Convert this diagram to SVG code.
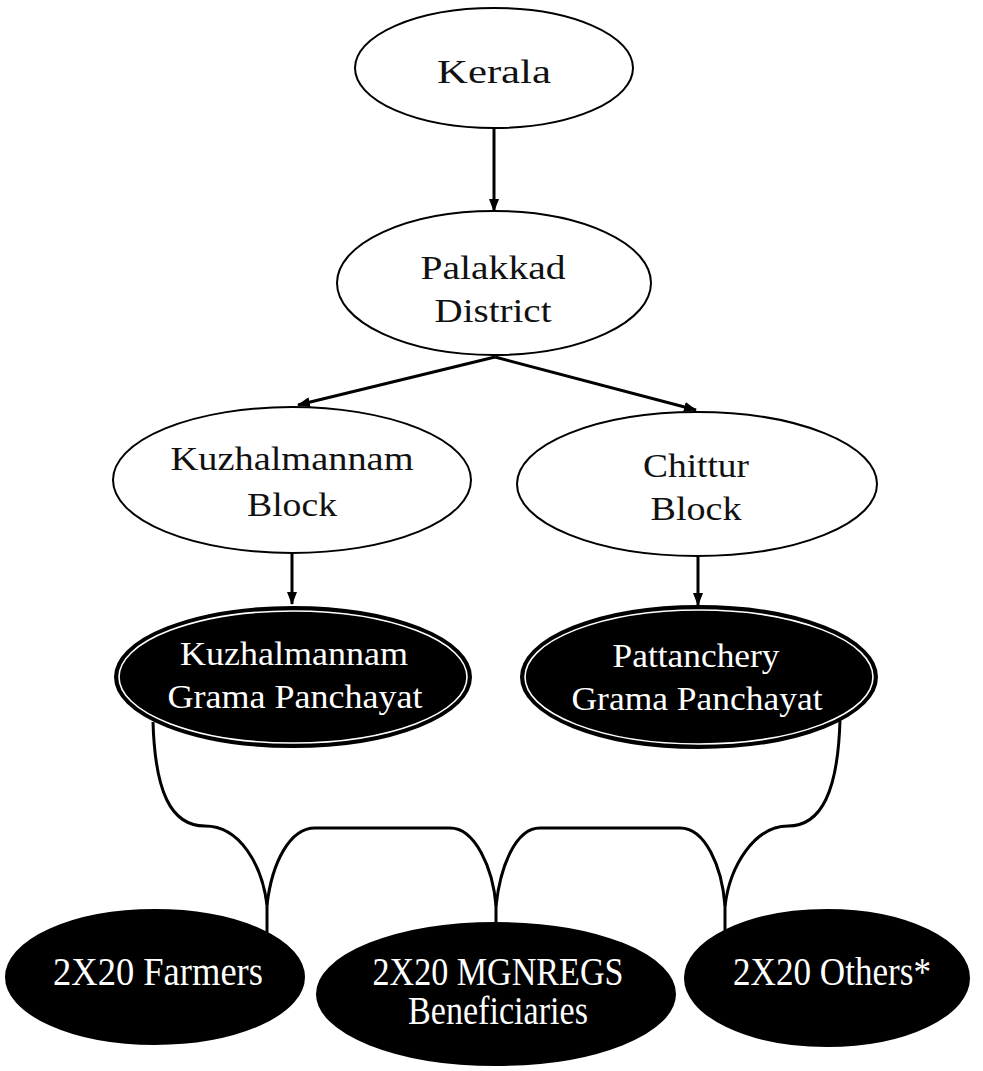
<svg xmlns="http://www.w3.org/2000/svg" width="983" height="1071" viewBox="0 0 983 1071">
<style>
.wn{fill:#fff;stroke:#000;stroke-width:2}
.bn{fill:#000;stroke:#000;stroke-width:2}
.ring{fill:none;stroke:#fff;stroke-width:1.6}
.t{font-family:"Liberation Serif","Times New Roman",serif;text-anchor:middle}
.tb{fill:#111;font-size:34px}
.tw{fill:#fff;font-size:34px}
.tl{fill:#fff;font-size:39px}
.ar{fill:none;stroke:#000;stroke-width:3;marker-end:url(#ah)}
.br{fill:none;stroke:#000;stroke-width:3;stroke-linejoin:round}
</style>
<defs>
<marker id="ah" markerUnits="userSpaceOnUse" markerWidth="14" markerHeight="10" refX="12" refY="5" orient="auto">
<path d="M0,0 L13,5 L0,10 Z" fill="#000"/>
</marker>
</defs>
<rect width="983" height="1071" fill="#fff"/>
<g id="connectors">
<path class="ar" d="M494,128 L494,211"/>
<path class="ar" d="M495,357 L298,405"/>
<path class="ar" d="M495,357 L696,410"/>
<path class="ar" d="M292,552 L292,604"/>
<path class="ar" d="M698,557 L698,605"/>
<path class="br" d="M153,722 C155,790 170,826 205,826 C240,826 262,865 267,905 L267,934"/>
<path class="br" d="M267,905 C272,862 290,828 315,828 L450,828 C475,828 493,868 496,906 L496,924"/>
<path class="br" d="M496,906 C500,868 515,828 540,828 L680,828 C705,828 722,866 725,906 L725,934"/>
<path class="br" d="M725,906 C730,865 755,826 788,826 C822,826 838,790 840,720"/>
</g>
<g id="kerala">
<ellipse class="wn" cx="494" cy="68" rx="139" ry="60"/>
<text class="t tb" x="494" y="83" font-size="35" textLength="114" lengthAdjust="spacingAndGlyphs">Kerala</text>
</g>
<g id="palakkad">
<ellipse class="wn" cx="494" cy="283" rx="157" ry="72"/>
<text class="t tb" x="493" y="279" textLength="145" lengthAdjust="spacingAndGlyphs">Palakkad</text>
<text class="t tb" x="493" y="322" textLength="117" lengthAdjust="spacingAndGlyphs">District</text>
</g>
<g id="kuzhalmannam-block">
<ellipse class="wn" cx="292" cy="480" rx="179" ry="73"/>
<text class="t tb" x="292" y="470" textLength="243" lengthAdjust="spacingAndGlyphs">Kuzhalmannam</text>
<text class="t tb" x="292" y="516" textLength="90" lengthAdjust="spacingAndGlyphs">Block</text>
</g>
<g id="chittur-block">
<ellipse class="wn" cx="697" cy="484" rx="180" ry="72"/>
<text class="t tb" x="696" y="477" textLength="106" lengthAdjust="spacingAndGlyphs">Chittur</text>
<text class="t tb" x="696" y="520" textLength="91" lengthAdjust="spacingAndGlyphs">Block</text>
</g>
<g id="kuzhalmannam-gp">
<ellipse class="bn" cx="293" cy="677" rx="178" ry="70"/>
<ellipse class="ring" cx="293" cy="677" rx="174" ry="66"/>
<text class="t tw" x="294" y="665" textLength="228" lengthAdjust="spacingAndGlyphs">Kuzhalmannam</text>
<text class="t tw" x="295" y="708" textLength="255" lengthAdjust="spacingAndGlyphs">Grama Panchayat</text>
</g>
<g id="pattanchery-gp">
<ellipse class="bn" cx="699" cy="677" rx="178" ry="71"/>
<ellipse class="ring" cx="699" cy="677" rx="174" ry="67"/>
<text class="t tw" x="696" y="667" textLength="167" lengthAdjust="spacingAndGlyphs">Pattanchery</text>
<text class="t tw" x="697" y="710" textLength="251" lengthAdjust="spacingAndGlyphs">Grama Panchayat</text>
</g>
<g id="farmers">
<ellipse class="bn" cx="155" cy="977" rx="149" ry="67"/>
<text class="t tl" x="158" y="985" textLength="210" lengthAdjust="spacingAndGlyphs">2X20 Farmers</text>
</g>
<g id="mgnregs">
<ellipse class="bn" cx="496" cy="994" rx="179" ry="71"/>
<text class="t tl" x="498" y="985" textLength="251" lengthAdjust="spacingAndGlyphs">2X20 MGNREGS</text>
<text class="t tl" x="498" y="1024" textLength="180" lengthAdjust="spacingAndGlyphs">Beneficiaries</text>
</g>
<g id="others">
<ellipse class="bn" cx="827" cy="978" rx="142" ry="68"/>
<text class="t tl" x="832" y="985" textLength="198" lengthAdjust="spacingAndGlyphs">2X20 Others*</text>
</g>
</svg>
